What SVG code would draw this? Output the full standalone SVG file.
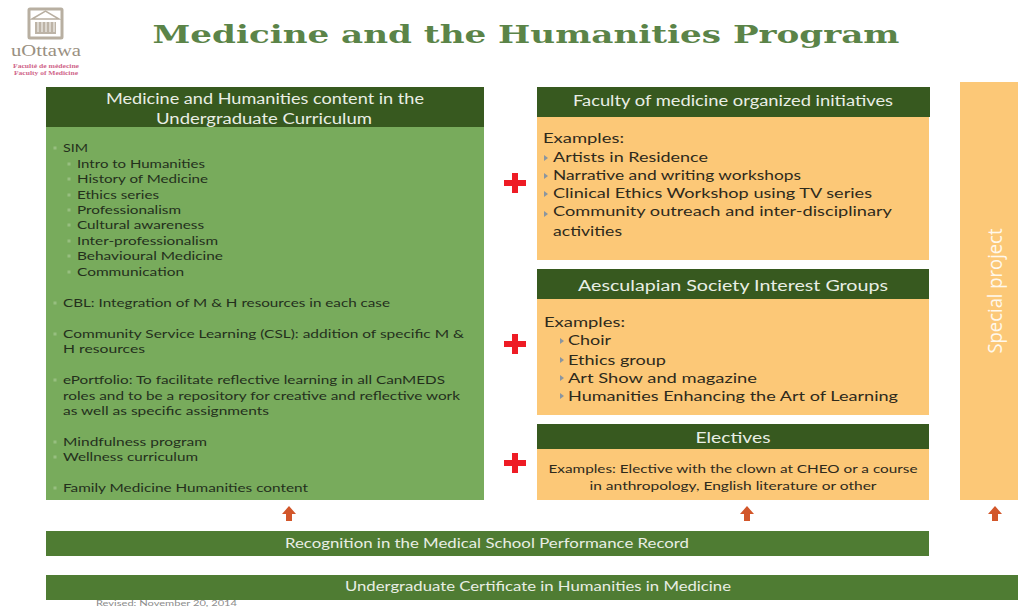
<svg xmlns="http://www.w3.org/2000/svg" width="1018" height="607" viewBox="0 0 1018 607">
<style>
text{font-family:"Lato","Liberation Sans",sans-serif}
.hd{fill:#e9eee5;font-size:14.500px}
.bd{fill:#24301c;font-size:12px}
.or{fill:#2e2a1c;font-size:14px}
.bul{fill:#8a96a0}
.lb{fill:#97bf80}
.dk{fill:#37591f}
.mid{fill:#4f7c33}
.cream{fill:#fcc877}
.grn{fill:#78ab5c}
.ar{fill:#d2562a}
.plus{fill:#ee1c25}
</style>
<defs>
<path id="up" class="ar" d="M0-9L7-1H3V6H-3V-1H-7Z"/>
<path id="plus" class="plus" d="M-3-10H3V-3H11V3H3V10H-3V3H-11V-3H-3Z"/>
<path id="tri" d="M0-3L4 0L0 3Z"/>
<rect id="sq" x="-1.500" y="-1.500" width="3" height="3"/>
</defs>

<g id="logo">
<rect x="29" y="9" width="33" height="29" rx="1" fill="#fff" stroke="#b8afa1" stroke-width="3"/>
<path d="M32 19L45.500 11L59 19Z" fill="#fff" stroke="#b8afa1" stroke-width="1.500"/>
<rect x="35" y="22" width="21" height="12" fill="#bdb4a7"/>
<path d="M38 22V32M42 22V32M46 22V32M50 22V32M54 22V32" stroke="#f1eeea" stroke-width="1.200"/>
<text x="46" y="56" text-anchor="middle" textLength="70" lengthAdjust="spacingAndGlyphs" style="font-family:'Liberation Serif',serif;font-size:17px;fill:#9a9082">uOttawa</text>
<text x="46" y="68" text-anchor="middle" textLength="66" lengthAdjust="spacingAndGlyphs" style="font-family:'Liberation Serif',serif;font-size:6px;font-weight:bold;fill:#d0668a">Faculté de médecine</text>
<text x="46" y="75" text-anchor="middle" textLength="64" lengthAdjust="spacingAndGlyphs" style="font-family:'Liberation Serif',serif;font-size:6px;font-weight:bold;fill:#d0668a">Faculty of Medicine</text>
</g>

<text id="title" x="526" y="43" text-anchor="middle" textLength="747" lengthAdjust="spacingAndGlyphs" style="font-family:'DejaVu Serif',serif;font-weight:bold;font-size:25px;fill:#5b8448">Medicine and the Humanities Program</text>

<g id="node-curriculum">
<rect class="dk" x="46" y="87" width="438" height="41"/>
<text class="hd" x="265" y="104" text-anchor="middle" textLength="318" lengthAdjust="spacingAndGlyphs">Medicine and Humanities content in the</text>
<text class="hd" x="264" y="124" text-anchor="middle" textLength="216" lengthAdjust="spacingAndGlyphs">Undergraduate Curriculum</text>
<rect class="grn" x="46" y="127" width="438" height="373"/>
<g class="lb">
<use href="#sq" x="55" y="148"/>
<use href="#sq" x="69" y="164"/><use href="#sq" x="69" y="179"/><use href="#sq" x="69" y="195"/><use href="#sq" x="69" y="210"/><use href="#sq" x="69" y="225"/><use href="#sq" x="69" y="241"/><use href="#sq" x="69" y="256"/><use href="#sq" x="69" y="272"/>
<use href="#sq" x="55" y="303"/><use href="#sq" x="55" y="334"/><use href="#sq" x="55" y="380"/><use href="#sq" x="55" y="442"/><use href="#sq" x="55" y="457"/><use href="#sq" x="55" y="488"/>
</g>
<g class="bd">
<text x="63" y="152" textLength="25" lengthAdjust="spacingAndGlyphs">SIM</text>
<text x="77" y="168" textLength="128" lengthAdjust="spacingAndGlyphs">Intro to Humanities</text>
<text x="77" y="183" textLength="131" lengthAdjust="spacingAndGlyphs">History of Medicine</text>
<text x="77" y="199" textLength="82" lengthAdjust="spacingAndGlyphs">Ethics series</text>
<text x="77" y="214" textLength="104" lengthAdjust="spacingAndGlyphs">Professionalism</text>
<text x="77" y="229" textLength="127" lengthAdjust="spacingAndGlyphs">Cultural awareness</text>
<text x="77" y="245" textLength="141" lengthAdjust="spacingAndGlyphs">Inter-professionalism</text>
<text x="77" y="260" textLength="146" lengthAdjust="spacingAndGlyphs">Behavioural Medicine</text>
<text x="77" y="276" textLength="107" lengthAdjust="spacingAndGlyphs">Communication</text>
<text x="63" y="307" textLength="327" lengthAdjust="spacingAndGlyphs">CBL: Integration of M &amp; H resources in each case</text>
<text x="63" y="338" textLength="401" lengthAdjust="spacingAndGlyphs">Community Service Learning (CSL): addition of specific M &amp;</text>
<text x="63" y="353" textLength="82" lengthAdjust="spacingAndGlyphs">H resources</text>
<text x="63" y="384" textLength="382" lengthAdjust="spacingAndGlyphs">ePortfolio: To facilitate reflective learning in all CanMEDS</text>
<text x="63" y="400" textLength="397" lengthAdjust="spacingAndGlyphs">roles and to be a repository for creative and reflective work</text>
<text x="63" y="415" textLength="206" lengthAdjust="spacingAndGlyphs">as well as specific assignments</text>
<text x="63" y="446" textLength="144" lengthAdjust="spacingAndGlyphs">Mindfulness program</text>
<text x="63" y="461" textLength="135" lengthAdjust="spacingAndGlyphs">Wellness curriculum</text>
<text x="63" y="492" textLength="245" lengthAdjust="spacingAndGlyphs">Family Medicine Humanities content</text>
</g>
</g>

<g id="node-faculty">
<rect class="cream" x="537" y="117" width="392" height="143"/>
<rect class="dk" x="537" y="87" width="393" height="30"/>
<text class="hd" x="733" y="106" text-anchor="middle" textLength="320" lengthAdjust="spacingAndGlyphs">Faculty of medicine organized initiatives</text>
<g class="or">
<text x="543" y="143" textLength="81" lengthAdjust="spacingAndGlyphs">Examples:</text>
<text x="553" y="162" textLength="155" lengthAdjust="spacingAndGlyphs">Artists in Residence</text>
<text x="553" y="180" textLength="248" lengthAdjust="spacingAndGlyphs">Narrative and writing workshops</text>
<text x="553" y="198" textLength="319" lengthAdjust="spacingAndGlyphs">Clinical Ethics Workshop using TV series</text>
<text x="553" y="216" textLength="339" lengthAdjust="spacingAndGlyphs">Community outreach and inter-disciplinary</text>
<text x="553" y="236" textLength="69" lengthAdjust="spacingAndGlyphs">activities</text>
</g>
<g class="bul">
<use href="#tri" x="544" y="158"/><use href="#tri" x="544" y="176"/><use href="#tri" x="544" y="194"/><use href="#tri" x="544" y="214"/>
</g>
</g>

<g id="node-aesculapian">
<rect class="cream" x="537" y="299" width="392" height="116"/>
<rect class="dk" x="537" y="269" width="392" height="30"/>
<text class="hd" x="733" y="291" text-anchor="middle" textLength="310" lengthAdjust="spacingAndGlyphs">Aesculapian Society Interest Groups</text>
<g class="or">
<text x="544" y="327" textLength="81" lengthAdjust="spacingAndGlyphs">Examples:</text>
<text x="568" y="345" textLength="43" lengthAdjust="spacingAndGlyphs">Choir</text>
<text x="568" y="365" textLength="98" lengthAdjust="spacingAndGlyphs">Ethics group</text>
<text x="568" y="383" textLength="189" lengthAdjust="spacingAndGlyphs">Art Show and magazine</text>
<text x="568" y="401" textLength="330" lengthAdjust="spacingAndGlyphs">Humanities Enhancing the Art of Learning</text>
</g>
<g class="bul">
<use href="#tri" x="560" y="341"/><use href="#tri" x="560" y="360"/><use href="#tri" x="560" y="378"/><use href="#tri" x="560" y="396"/>
</g>
</g>

<g id="node-electives">
<rect class="cream" x="537" y="449" width="392" height="51"/>
<rect class="dk" x="537" y="424" width="392" height="25"/>
<text class="hd" x="733" y="443" text-anchor="middle" textLength="75" lengthAdjust="spacingAndGlyphs">Electives</text>
<text class="bd" x="733" y="473" text-anchor="middle" textLength="369" lengthAdjust="spacingAndGlyphs" style="fill:#2e2a1c">Examples: Elective with the clown at CHEO or a course</text>
<text class="bd" x="733" y="490" text-anchor="middle" textLength="287" lengthAdjust="spacingAndGlyphs" style="fill:#2e2a1c">in anthropology, English literature or other</text>
</g>

<g id="node-special">
<rect class="cream" x="960" y="82" width="58" height="418"/>
<text transform="translate(1002 291) rotate(-90)" text-anchor="middle" textLength="125" lengthAdjust="spacingAndGlyphs" style="font-family:'Open Sans',sans-serif;font-size:20px;fill:#fff8ec">Special project</text>
</g>

<g id="node-recognition">
<rect class="mid" x="46" y="531" width="883" height="25"/>
<text class="hd" x="487" y="548" text-anchor="middle" textLength="404" lengthAdjust="spacingAndGlyphs" style="font-size:13px">Recognition in the Medical School Performance Record</text>
</g>
<g id="node-certificate">
<rect class="mid" x="46" y="575" width="972" height="25"/>
<text class="hd" x="538" y="591" text-anchor="middle" textLength="386" lengthAdjust="spacingAndGlyphs" style="font-size:13px">Undergraduate Certificate in Humanities in Medicine</text>
</g>
<text id="revised" x="96" y="606" textLength="141" lengthAdjust="spacingAndGlyphs" style="font-size:7px;fill:#8b8b8b">Revised: November 20, 2014</text>

<g id="connectors">
<use href="#plus" x="515" y="183"/>
<use href="#plus" x="515" y="344"/>
<use href="#plus" x="515" y="463"/>
<use href="#up" x="289" y="515"/>
<use href="#up" x="747" y="515"/>
<use href="#up" x="995" y="515"/>
</g>
</svg>
